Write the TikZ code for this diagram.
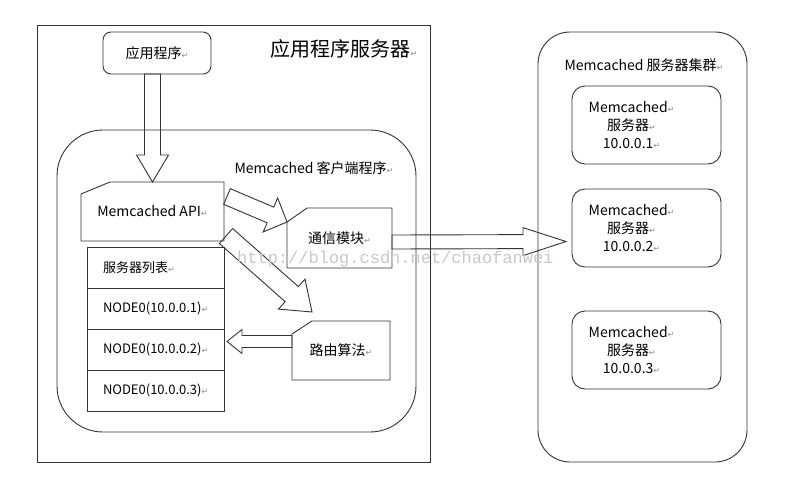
\documentclass[tikz,border=0pt]{standalone}
\usepackage{fontspec}
\setmainfont{Noto Sans CJK SC}
\newfontfamily\symfont{DejaVu Sans}
\newfontfamily\markfont{Liberation Mono}
\usepackage{tikz}
\usetikzlibrary{calc,positioning}
\tikzstyle{box}=[
	rectangle,
	draw=black!80,
	line width=0.9pt,
	outer sep=0,
	inner sep=0,
	font=\fontsize{14}{18}\selectfont]
\tikzstyle{plain}=[
	rectangle,
	outer sep=0,
	inner sep=0,
	font=\fontsize{14}{18}\selectfont]
\tikzstyle{row}=[
	box,
	text width=105,
	inner xsep=16,
	minimum height=41,
	align=left,
	font=\fontsize{13}{16}\selectfont]
\tikzstyle{srv}=[
	box,
	rounded corners=13,
	minimum width=149,
	minimum height=78]
\tikzstyle{outline}=[
	draw=black!80,
	line width=0.9pt,
	line join=miter]
\newcommand{\rt}{{\symfont\fontsize{8}{8}\selectfont\textcolor{black!45}{↵}}}
\newcommand{\snip}[3]{\draw[outline] ([yshift=-#3]#1.north west) -- ([xshift=#2]#1.north west) -- (#1.north east) -- (#1.south east) -- (#1.south west) -- cycle;}
\newcommand{\blockarrow}[6]{%
	\coordinate (#6h) at ($(#2)!#5!(#1)$);
	\draw[outline] ($(#1)!#3!90:(#2)$) -- ($(#6h)!#3!90:(#2)$) -- ($(#6h)!#4!90:(#2)$) -- (#2) -- ($(#6h)!#4!-90:(#2)$) -- ($(#6h)!#3!-90:(#2)$) -- ($(#1)!#3!-90:(#2)$) -- cycle;}

\begin{document}
\begin{tikzpicture}[x=1pt,y=-1pt]
	\useasboundingbox (0,0) rectangle (787,498);
	\node[box,minimum width=393,minimum height=437]	(appsrv)	at (233.5,243.5)	{};
	\node[plain,font=\fontsize{20}{24}\selectfont]	(appsrvl)	at (344,49)	{应用程序服务器\rt};
	\node[box,rounded corners=8,minimum width=108,minimum height=42]	(app)	at (157,53)	{应用程序\rt};
	\node[box,rounded corners=46,minimum width=359,minimum height=302]	(client)	at (236.5,281)	{};
	\node[plain]	(clientl)	at (314,168)	{Memcached 客户端程序\rt};
	\node[plain,minimum width=143,minimum height=59]	(api)	at (152.5,211.5)	{Memcached API\rt};
	\snip{api}{29pt}{12pt}
	\node[row]	(list)	at (155.5,267.5)	{服务器列表\rt};
	\node[row]	(n1)	[below=0pt of list]	{NODE0(10.0.0.1)\rt};
	\node[row]	(n2)	[below=0pt of n1]	{NODE0(10.0.0.2)\rt};
	\node[row]	(n3)	[below=0pt of n2]	{NODE0(10.0.0.3)\rt};
	\node[plain,minimum width=105,minimum height=60]	(comm)	at (339.5,238)	{通信模块\rt};
	\snip{comm}{20pt}{14pt}
	\node[plain,minimum width=98,minimum height=59]	(route)	at (341,350.5)	{路由算法\rt};
	\snip{route}{20pt}{13pt}

	\node[box,rounded corners=32,minimum width=209,minimum height=430]	(cluster)	at (642.5,247)	{};
	\node[plain]	(clusterl)	at (644,65)	{Memcached 服务器集群\rt};
	\node[srv]	(s1)	at (646.5,125)	{};
	\node[srv]	(s2)	[below=25pt of s1]	{};
	\node[srv]	(s3)	[below=44pt of s2]	{};
	\node[plain,align=center]	(t1)	at ([xshift=-15pt]s1.center)	{Memcached\rt\\服务器\rt\\10.0.0.1\rt};
	\node[plain,align=center]	(t2)	at ([xshift=-15pt]s2.center)	{Memcached\rt\\服务器\rt\\10.0.0.2\rt};
	\node[plain,align=center]	(t3)	at ([xshift=-15pt]s3.center)	{Memcached\rt\\服务器\rt\\10.0.0.3\rt};

	\coordinate	(a0s)	at (app.south -| api.north);
	\coordinate	(a0e)	at (api.north);
	\blockarrow{a0s}{a0e}{8pt}{16pt}{27pt}{a0}
	\coordinate	(a1s)	at ($(api.east)+(3,-15)$);
	\coordinate	(a1e)	at ($(comm.north west)+(0,14)$);
	\blockarrow{a1s}{a1e}{8.5pt}{18.5pt}{18pt}{a1}
	\coordinate	(a2s)	at ($(api.south east)+(2,-5)$);
	\coordinate	(a2e)	at ($(route.north west)+(20,-9)$);
	\blockarrow{a2s}{a2e}{10pt}{20pt}{27pt}{a2}
	\coordinate	(a3s)	at ($(route.west)+(0,-9)$);
	\coordinate	(a3e)	at ($(n2.east)+(3,-8)$);
	\blockarrow{a3s}{a3e}{6pt}{12pt}{15pt}{a3}
	\coordinate	(a4s)	at ($(comm.east)+(0,4)$);
	\coordinate	(a4e)	at ($(s2.west)+(-6,13.5)$);
	\blockarrow{a4s}{a4e}{7pt}{14pt}{43pt}{a4}

	\node[anchor=base west,inner sep=0,text=black!22,font=\markfont\fontsize{17}{17}\selectfont]	(mark)	at (237,263)	{http://blog.csdn.net/chaofanwei};
\end{tikzpicture}
\end{document}
